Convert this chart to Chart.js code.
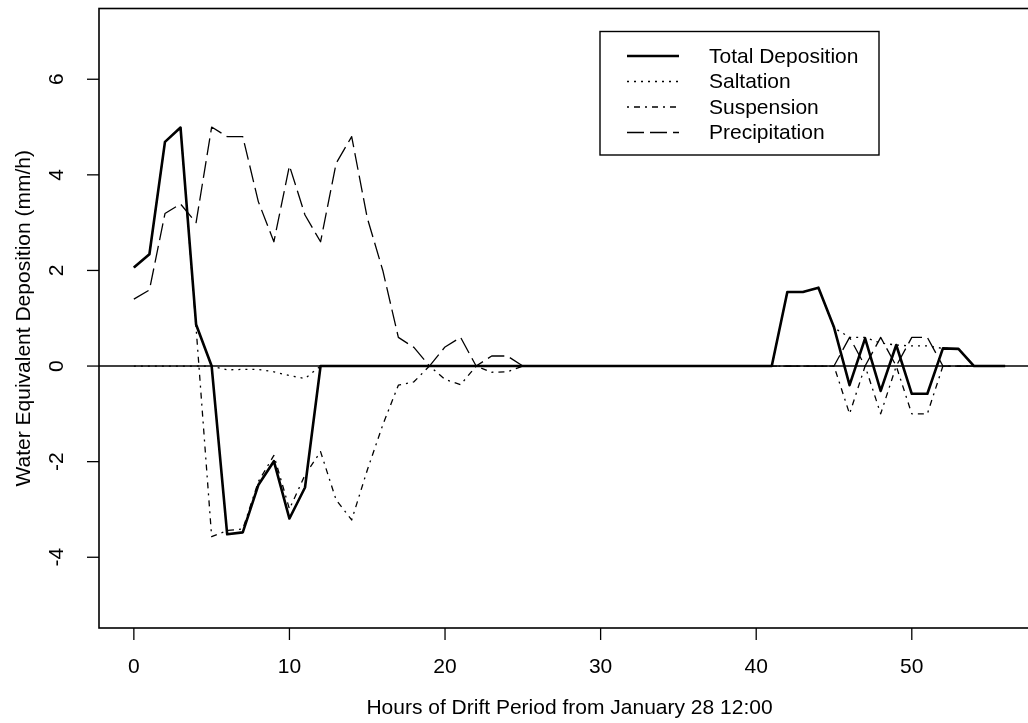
<!DOCTYPE html>
<html>
<head>
<meta charset="utf-8">
<script src="https://cdn.jsdelivr.net/npm/chart.js@4/dist/chart.umd.min.js"></script>
<style>
  html, body { margin: 0; padding: 0; background: #fff; overflow: hidden; }
  #wrap { width: 1028px; height: 723px; overflow: hidden; }
  #chart { display: block; }
</style>
</head>
<body>
<div id="wrap"><canvas id="chart" width="1045" height="723"></canvas></div>
<script>
// hours since January 28 12:00
const hours = [0, 1, 2, 3, 4, 5, 6, 7, 8, 9, 10, 11, 12, 13, 14, 15, 16, 17, 18, 19,
  20, 21, 22, 23, 24, 25, 26, 27, 28, 29, 30, 31, 32, 33, 34, 35, 36, 37, 38, 39,
  40, 41, 42, 43, 44, 45, 46, 47, 48, 49, 50, 51, 52, 53, 54, 55, 56];

// mm/h
const totalDeposition = [2.06, 2.34, 4.69, 4.99, 0.87, 0, -3.52, -3.48, -2.49, -1.99,
  -3.19, -2.54, 0, 0, 0, 0, 0, 0, 0, 0,
  0, 0, 0, 0, 0, 0, 0, 0, 0, 0, 0, 0, 0, 0, 0, 0, 0, 0, 0, 0,
  0, 0, 1.55, 1.55, 1.64, 0.81, -0.4, 0.58, -0.52, 0.44,
  -0.58, -0.58, 0.37, 0.36, 0, 0, 0];

const saltation = [0, 0, 0, 0, 0, 0, -0.08, -0.07, -0.07, -0.12,
  -0.2, -0.26, 0, 0, 0, 0, 0, 0, 0, 0,
  0, 0, 0, 0, 0, 0, 0, 0, 0, 0, 0, 0, 0, 0, 0, 0, 0, 0, 0, 0,
  0, 0, 1.55, 1.55, 1.64, 0.8, 0.6, 0.6, 0.48, 0.44,
  0.42, 0.42, 0.37, 0.36, 0, 0, 0];

const suspension = [2.06, 2.34, 4.69, 4.99, 0.8, -3.57, -3.44, -3.41, -2.42, -1.87,
  -2.99, -2.28, -1.79, -2.8, -3.22, -2.18, -1.23, -0.4, -0.33, 0,
  -0.28, -0.39, 0, -0.13, -0.12, 0, 0, 0, 0, 0, 0, 0, 0, 0, 0, 0, 0, 0, 0, 0,
  0, 0, 0, 0, 0, 0, -1.0, 0, -1.0, 0,
  -1.0, -1.0, 0, 0, 0, 0, 0];

const precipitation = [1.4, 1.59, 3.19, 3.39, 3.0, 5.0, 4.8, 4.8, 3.44, 2.6,
  4.19, 3.16, 2.6, 4.24, 4.8, 3.1, 2.0, 0.6, 0.39, 0,
  0.4, 0.6, 0, 0.21, 0.21, 0, 0, 0, 0, 0, 0, 0, 0, 0, 0, 0, 0, 0, 0, 0,
  0, 0, 0, 0, 0, 0, 0.6, 0, 0.6, 0,
  0.6, 0.6, 0, 0, 0, 0, 0];

const xTicks = [0, 10, 20, 30, 40, 50];
const yTicks = [-4, -2, 0, 2, 4, 6];

const xTitle = 'Hours of Drift Period from January 28 12:00';
const yTitle = 'Water Equivalent Deposition (mm/h)';

const FONT = '21px "Liberation Sans", Arial, Helvetica, sans-serif';

function pts(values) {
    return hours.map((h, i) => ({ x: h, y: values[i] }));
}

// R-style frame, axes, titles and legend
const rAxes = {
    id: 'rAxes',
    beforeDatasetsDraw(chart) {
        const { ctx, chartArea, scales } = chart;
        const y0 = scales.y.getPixelForValue(0);
        ctx.save();
        ctx.strokeStyle = '#000';
        ctx.lineWidth = 1.4;
        ctx.beginPath();
        ctx.moveTo(chartArea.left, y0);
        ctx.lineTo(chartArea.right, y0);
        ctx.stroke();
        ctx.restore();
    },
    afterDraw(chart) {
        const { ctx, chartArea: a, scales } = chart;
        ctx.save();
        ctx.strokeStyle = '#000';
        ctx.fillStyle = '#000';
        ctx.lineWidth = 1.6;
        ctx.strokeRect(a.left, a.top, a.right - a.left, a.bottom - a.top);

        ctx.font = FONT;
        ctx.lineWidth = 1.3;

        // x axis
        ctx.textAlign = 'center';
        ctx.textBaseline = 'alphabetic';
        xTicks.forEach((v) => {
            const x = scales.x.getPixelForValue(v);
            ctx.beginPath();
            ctx.moveTo(x, a.bottom);
            ctx.lineTo(x, a.bottom + 12);
            ctx.stroke();
            ctx.fillText(String(v), x, 673);
        });
        ctx.fillText(xTitle, (a.left + a.right) / 2, 714);

        // y axis, labels parallel to the axis
        yTicks.forEach((v) => {
            const y = scales.y.getPixelForValue(v);
            ctx.beginPath();
            ctx.moveTo(a.left, y);
            ctx.lineTo(a.left - 12, y);
            ctx.stroke();
            ctx.save();
            ctx.translate(63, y);
            ctx.rotate(-Math.PI / 2);
            ctx.fillText(String(v), 0, 0);
            ctx.restore();
        });
        ctx.save();
        ctx.translate(30, (a.top + a.bottom) / 2);
        ctx.rotate(-Math.PI / 2);
        ctx.fillText(yTitle, 0, 0);
        ctx.restore();

        // legend
        ctx.lineWidth = 1.4;
        ctx.strokeRect(600, 31.5, 279, 123.5);
        ctx.textAlign = 'left';
        ctx.textBaseline = 'middle';
        chart.data.datasets.forEach((ds, i) => {
            const y = 56 + i * 25.5;
            ctx.save();
            ctx.lineWidth = ds.borderWidth;
            ctx.setLineDash(ds.borderDash || []);
            ctx.beginPath();
            ctx.moveTo(627, y);
            ctx.lineTo(679, y);
            ctx.stroke();
            ctx.restore();
            ctx.fillText(ds.label, 709, y + 1);
        });
        ctx.restore();
    }
};

const common = {
    borderColor: '#000',
    backgroundColor: '#000',
    pointRadius: 0,
    tension: 0,
    fill: false,
    borderJoinStyle: 'round'
};

new Chart(document.getElementById('chart'), {
    type: 'line',
    data: {
        datasets: [
            { ...common, label: 'Total Deposition', data: pts(totalDeposition), borderWidth: 2.6 },
            { ...common, label: 'Saltation', data: pts(saltation), borderWidth: 1.3, borderDash: [2, 5] },
            { ...common, label: 'Suspension', data: pts(suspension), borderWidth: 1.3, borderDash: [2, 5, 6, 5] },
            { ...common, label: 'Precipitation', data: pts(precipitation), borderWidth: 1.3, borderDash: [17, 6] }
        ]
    },
    options: {
        responsive: false,
        animation: false,
        events: [],
        layout: { padding: { left: 99, top: 8.5, right: 5, bottom: 95 } },
        scales: {
            x: { type: 'linear', min: -2.24, max: 58.24, display: false },
            y: { type: 'linear', min: -5.48, max: 7.48, display: false }
        },
        plugins: {
            legend: { display: false },
            tooltip: { enabled: false }
        }
    },
    plugins: [rAxes]
});
</script>
</body>
</html>
